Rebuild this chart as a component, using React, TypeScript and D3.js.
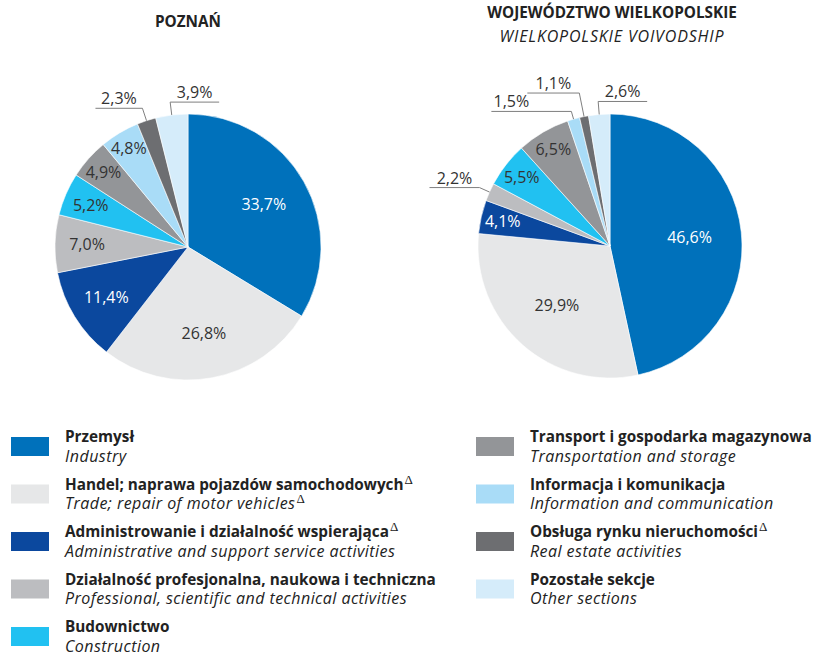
import React from 'react';
import * as d3 from 'd3';

// sections in the order they are drawn (clockwise from 12 o'clock)
const sectionsPl = [
  'Przemysł',
  'Handel; naprawa pojazdów samochodowych',
  'Administrowanie i działalność wspierająca',
  'Działalność profesjonalna, naukowa i techniczna',
  'Budownictwo',
  'Transport i gospodarka magazynowa',
  'Informacja i komunikacja',
  'Obsługa rynku nieruchomości',
  'Pozostałe sekcje',
];
const sectionsEn = [
  'Industry',
  'Trade; repair of motor vehicles',
  'Administrative and support service activities',
  'Professional, scientific and technical activities',
  'Construction',
  'Transportation and storage',
  'Information and communication',
  'Real estate activities',
  'Other sections',
];
// sections marked with a delta in the legend (pl / en line)
const deltaPl = [false, true, true, false, false, false, false, true, false];
const deltaEn = [false, true, false, false, false, false, false, false, false];

const colors = ['#0071bb', '#e6e7e8', '#0b489e', '#bcbdc0', '#21c1f1', '#939598', '#a9dcf7', '#6d6e71', '#d5ecfa'];
const whiteLabel = [true, false, true, false, false, false, false, false, false];

const poznan = [33.7, 26.8, 11.4, 7.0, 5.2, 4.9, 4.8, 2.3, 3.9];
const wielkopolska = [46.6, 29.9, 4.1, 2.2, 5.5, 6.5, 1.5, 1.1, 2.6];

// label layout: distance of in-slice labels from the centre
const poznanLabelR = [87, 88, 96, 101, 106, 113, 115, 0, 0];
const wlkpLabelR = [80, 80, 110, 0, 112, 112, 0, 0, 0];
// callout labels: index -> elbow radius, direction, shelf length, text position on shelf
type Callout = { elbow: number; dir: number; len: number; at: number };
const poznanCallouts: Record<number, Callout> = {
  7: { elbow: 146, dir: -1, len: 47, at: 0.5 },
  8: { elbow: 146, dir: 1, len: 49, at: 0.5 },
};
const wlkpCallouts: Record<number, Callout> = {
  3: { elbow: 143, dir: -1, len: 50, at: 0.5 },
  6: { elbow: 140, dir: -1, len: 80, at: 0.75 },
  7: { elbow: 156, dir: -1, len: 52, at: 0.5 },
  8: { elbow: 145, dir: 1, len: 49, at: 0.5 },
};

const FONT = '"Open Sans", sans-serif';
const fmt = (v: number) => v.toFixed(1).replace('.', ',') + '%';

function Pie({ values, cx, cy, r, labelR, callouts }: {
  values: number[]; cx: number; cy: number; r: number; labelR: number[]; callouts: Record<number, Callout>;
}) {
  const arcs = d3.pie<number>().sort(null).value(d => d)(values);
  const arc = d3.arc<d3.PieArcDatum<number>>().innerRadius(0).outerRadius(r);
  const polar = (a: number, rr: number): [number, number] => [cx + rr * Math.sin(a), cy - rr * Math.cos(a)];

  return (
    <g>
      <g transform={`translate(${cx},${cy})`}>
        {arcs.map((a, i) => (
          <path key={i} d={arc(a) || ''} fill={colors[i]} stroke="#fff" strokeWidth={0.6} />
        ))}
      </g>
      {arcs.map((a, i) => {
        const mid = (a.startAngle + a.endAngle) / 2;
        const c = callouts[i];
        if (c) {
          const p0 = polar(mid, r);
          const e = polar(mid, c.elbow);
          const x2 = e[0] + c.dir * c.len;
          return (
            <g key={i}>
              <path d={`M${p0[0]},${p0[1]}L${e[0]},${e[1]}L${x2},${e[1]}`} fill="none" stroke="#7f7f7f" strokeWidth={1} />
              <text x={e[0] + c.dir * c.len * c.at} y={e[1] - 4} textAnchor="middle" fontSize={16} fill="#333">
                {fmt(values[i])}
              </text>
            </g>
          );
        }
        const [x, y] = polar(mid, labelR[i]);
        return (
          <text key={i} x={x} y={y} dy="0.35em" textAnchor="middle" fontSize={16} fill={whiteLabel[i] ? '#fff' : '#333'}>
            {fmt(values[i])}
          </text>
        );
      })}
    </g>
  );
}

const Delta = () => (
  <tspan fontFamily='"Liberation Serif", serif' fontWeight="normal" fontStyle="normal" fontSize={13} dx={1} dy={-6} letterSpacing={0}>Δ</tspan>
);

function Legend() {
  const row = d3.scaleLinear().domain([0, 1]).range([442, 489.5]);
  const items = sectionsPl.map((pl, i) => ({ pl, en: sectionsEn[i], i, col: i < 5 ? 0 : 1, k: i < 5 ? i : i - 5 }));
  const colX = [11, 476];
  return (
    <g>
      {items.map(d => {
        const y = row(d.k);
        const x = colX[d.col];
        return (
          <g key={d.i}>
            <rect x={x} y={y - 5} width={38} height={19} fill={colors[d.i]} />
            <text x={x + 54} y={y} fontSize={15.3} fontWeight="bold" fill="#222">
              {d.pl}{deltaPl[d.i] && <Delta />}
            </text>
            <text x={x + 54} y={y + 19.5} fontSize={16} fontStyle="italic" letterSpacing={0.45} fill="#222">
              {d.en}{deltaEn[d.i] && <Delta />}
            </text>
          </g>
        );
      })}
    </g>
  );
}

export default function App() {
  return (
    <svg width={814} height={656} style={{ position: 'absolute', left: 0, top: 0, fontFamily: FONT }}>
      <rect width={814} height={656} fill="#fff" />
      <text x={188} y={27} textAnchor="middle" fontSize={15.3} fontWeight="bold" fill="#222">POZNAŃ</text>
      <text x={612} y={18} textAnchor="middle" fontSize={15.3} fontWeight="bold" fill="#222">WOJEWÓDZTWO WIELKOPOLSKIE</text>
      <text x={612} y={42} textAnchor="middle" fontSize={16} fontStyle="italic" letterSpacing={0.85} fill="#222">WIELKOPOLSKIE VOIVODSHIP</text>
      <Pie values={poznan} cx={188} cy={247} r={133} labelR={poznanLabelR} callouts={poznanCallouts} />
      <Pie values={wielkopolska} cx={610} cy={246} r={132} labelR={wlkpLabelR} callouts={wlkpCallouts} />
      <Legend />
    </svg>
  );
}
